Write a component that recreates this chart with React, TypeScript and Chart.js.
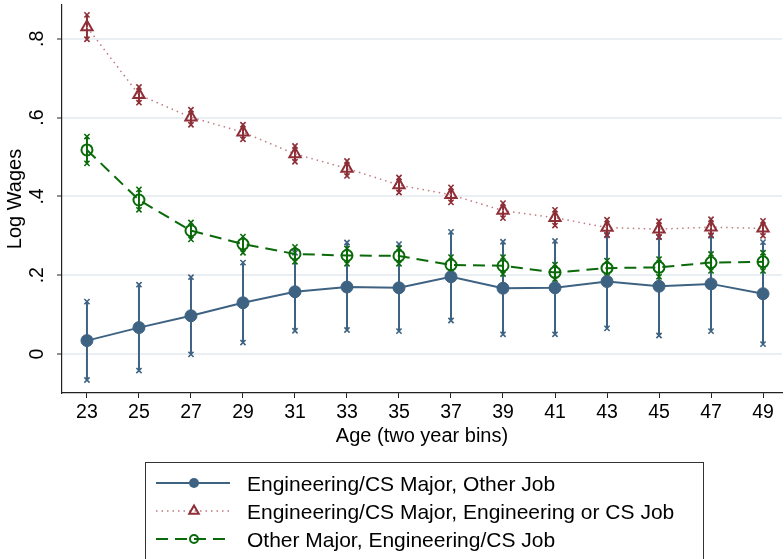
import { useEffect, useRef } from "react";
import { Chart, registerables } from "chart.js";

Chart.register(...registerables);

const ages = [23, 25, 27, 29, 31, 33, 35, 37, 39, 41, 43, 45, 47, 49];
const yTickValues = [0, 0.2, 0.4, 0.6, 0.8];
const yTickLabels = ["0", ".2", ".4", ".6", ".8"];

const otherJobMean = [0.034, 0.067, 0.097, 0.130, 0.158, 0.170, 0.168, 0.196, 0.167, 0.168, 0.184, 0.172, 0.178, 0.153];
const otherJobLo = [-0.066, -0.042, -0.001, 0.029, 0.059, 0.061, 0.058, 0.085, 0.050, 0.050, 0.065, 0.047, 0.058, 0.025];
const otherJobHi = [0.133, 0.176, 0.195, 0.232, 0.257, 0.283, 0.279, 0.310, 0.285, 0.287, 0.303, 0.297, 0.300, 0.284];

const engJobMean = [0.830, 0.658, 0.601, 0.563, 0.508, 0.471, 0.429, 0.404, 0.364, 0.346, 0.321, 0.317, 0.322, 0.319];
const engJobLo = [0.799, 0.638, 0.582, 0.545, 0.488, 0.452, 0.410, 0.385, 0.345, 0.326, 0.301, 0.297, 0.302, 0.300];
const engJobHi = [0.861, 0.678, 0.620, 0.582, 0.528, 0.490, 0.448, 0.423, 0.383, 0.366, 0.341, 0.337, 0.342, 0.338];

const otherMajorMean = [0.518, 0.391, 0.313, 0.279, 0.254, 0.250, 0.249, 0.226, 0.224, 0.207, 0.218, 0.220, 0.232, 0.234];
const otherMajorLo = [0.484, 0.366, 0.291, 0.257, 0.234, 0.229, 0.229, 0.209, 0.203, 0.190, 0.196, 0.196, 0.211, 0.211];
const otherMajorHi = [0.552, 0.418, 0.334, 0.298, 0.272, 0.268, 0.269, 0.246, 0.246, 0.227, 0.237, 0.241, 0.254, 0.257];

const seriesLabels = [
  "Engineering/CS Major, Other Job",
  "Engineering/CS Major, Engineering or CS Job",
  "Other Major, Engineering/CS Job",
];

const BLUE = "#3e6282";
const RED = "#8e2f37";
const RED_LINE = "#c07a80";
const GREEN = "#0a6a0a";
const FONT = "'Liberation Sans', Arial, Helvetica, sans-serif";
const FS = 19.5;
const FS_TITLE = 20;
const FS_LEGEND = 21;

const pts = (ys: number[]) => ages.map((a, i) => ({ x: a, y: ys[i] }));

const errorBars = [
  { lo: otherJobLo, hi: otherJobHi, color: BLUE },
  { lo: engJobLo, hi: engJobHi, color: RED },
  { lo: otherMajorLo, hi: otherMajorHi, color: GREEN },
];

function drawCapX(ctx: CanvasRenderingContext2D, x: number, y: number) {
  const s = 2.6;
  ctx.beginPath();
  ctx.moveTo(x - s, y - s);
  ctx.lineTo(x + s, y + s);
  ctx.moveTo(x + s, y - s);
  ctx.lineTo(x - s, y + s);
  ctx.stroke();
}

const errorBarPlugin = {
  id: "errorBars",
  beforeDatasetsDraw(chart: any) {
    const { ctx } = chart;
    const xs = chart.scales.x;
    const ys = chart.scales.y;
    ctx.save();
    errorBars.forEach((eb) => {
      ctx.strokeStyle = eb.color;
      ctx.lineWidth = 2;
      ages.forEach((a, i) => {
        const px = xs.getPixelForValue(a);
        const pt = ys.getPixelForValue(eb.hi[i]);
        const pb = ys.getPixelForValue(eb.lo[i]);
        ctx.beginPath();
        ctx.moveTo(px, pt);
        ctx.lineTo(px, pb);
        ctx.stroke();
      });
      ctx.lineWidth = 1.6;
      ages.forEach((a, i) => {
        const px = xs.getPixelForValue(a);
        drawCapX(ctx, px, ys.getPixelForValue(eb.hi[i]));
        drawCapX(ctx, px, ys.getPixelForValue(eb.lo[i]));
      });
    });
    ctx.restore();
  },
};

const yLabelPlugin = {
  id: "yLabels",
  afterDraw(chart: any) {
    const { ctx } = chart;
    const ys = chart.scales.y;
    ctx.save();
    ctx.fillStyle = "#000";
    ctx.font = `${FS}px ${FONT}`;
    ctx.textAlign = "center";
    ctx.textBaseline = "alphabetic";
    yTickValues.forEach((v, i) => {
      const py = ys.getPixelForValue(v);
      ctx.save();
      ctx.translate(43, py);
      ctx.rotate(-Math.PI / 2);
      ctx.fillText(yTickLabels[i], 0, 0);
      ctx.restore();
    });
    ctx.restore();
  },
};

const legendPlugin = {
  id: "customLegend",
  afterDraw(chart: any) {
    const { ctx } = chart;
    ctx.save();
    ctx.strokeStyle = "#333";
    ctx.lineWidth = 1;
    ctx.strokeRect(145.5, 462.5, 558, 140);
    const rows = [490.5, 518.5, 546.5];
    const x0 = 156;
    const x1 = 230;
    const mx = 194;
    ctx.font = `${FS_LEGEND}px ${FONT}`;
    ctx.textAlign = "left";
    ctx.textBaseline = "alphabetic";
    rows.forEach((by, i) => {
      const ly = by - 7.5;
      ctx.save();
      if (i === 0) {
        ctx.strokeStyle = BLUE;
        ctx.lineWidth = 2;
        ctx.setLineDash([]);
      } else if (i === 1) {
        ctx.strokeStyle = RED_LINE;
        ctx.lineWidth = 1.5;
        ctx.setLineDash([1.5, 4]);
      } else {
        ctx.strokeStyle = GREEN;
        ctx.lineWidth = 2;
        ctx.setLineDash([12, 7]);
      }
      ctx.beginPath();
      ctx.moveTo(x0, ly);
      ctx.lineTo(x1, ly);
      ctx.stroke();
      ctx.setLineDash([]);
      if (i === 0) {
        ctx.fillStyle = BLUE;
        ctx.beginPath();
        ctx.arc(mx, ly, 5, 0, Math.PI * 2);
        ctx.fill();
      } else if (i === 1) {
        ctx.strokeStyle = RED;
        ctx.lineWidth = 2;
        const r = 5.5;
        ctx.beginPath();
        ctx.moveTo(mx, ly - r);
        ctx.lineTo(mx + r * 0.866, ly + r * 0.5);
        ctx.lineTo(mx - r * 0.866, ly + r * 0.5);
        ctx.closePath();
        ctx.stroke();
      } else {
        ctx.strokeStyle = GREEN;
        ctx.lineWidth = 2;
        ctx.beginPath();
        ctx.arc(mx, ly, 4, 0, Math.PI * 2);
        ctx.stroke();
      }
      ctx.restore();
      ctx.fillStyle = "#000";
      ctx.fillText(seriesLabels[i], 247, by);
    });
    ctx.restore();
  },
};

export default function App() {
  const ref = useRef<HTMLCanvasElement>(null);
  useEffect(() => {
    document.body.style.margin = "0";
    Chart.defaults.font.family = FONT;
    const chart = new Chart(ref.current as HTMLCanvasElement, {
      type: "line",
      data: {
        datasets: [
          {
            label: seriesLabels[0],
            data: pts(otherJobMean),
            borderColor: BLUE,
            borderWidth: 2,
            pointStyle: "circle",
            pointRadius: 6,
            pointBackgroundColor: BLUE,
            pointBorderColor: BLUE,
            pointBorderWidth: 1,
            fill: false,
            tension: 0,
            clip: false,
            order: 3,
          },
          {
            label: seriesLabels[1],
            data: pts(engJobMean),
            borderColor: RED_LINE,
            borderWidth: 1.5,
            borderDash: [1.5, 4],
            pointStyle: "triangle",
            pointRadius: 6.5,
            pointBackgroundColor: "rgba(0,0,0,0)",
            pointBorderColor: RED,
            pointBorderWidth: 2,
            fill: false,
            tension: 0,
            clip: false,
            order: 2,
          },
          {
            label: seriesLabels[2],
            data: pts(otherMajorMean),
            borderColor: GREEN,
            borderWidth: 2,
            borderDash: [12, 7],
            pointStyle: "circle",
            pointRadius: 5.5,
            pointBackgroundColor: "rgba(0,0,0,0)",
            pointBorderColor: GREEN,
            pointBorderWidth: 2,
            fill: false,
            tension: 0,
            clip: false,
            order: 1,
          },
        ],
      },
      options: {
        animation: false,
        responsive: false,
        maintainAspectRatio: false,
        layout: { autoPadding: false, padding: { left: 0, right: 2, top: 5, bottom: 111 } },
        plugins: {
          legend: { display: false },
          tooltip: { enabled: false },
        },
        scales: {
          x: {
            type: "linear",
            min: 22.04,
            max: 49.73,
            afterBuildTicks: (s: any) => {
              s.ticks = ages.map((v) => ({ value: v }));
            },
            afterFit: (s: any) => {
              s.height = 55;
              s.paddingLeft = 0;
              s.paddingRight = 0;
            },
            ticks: {
              autoSkip: false,
              maxRotation: 0,
              minRotation: 0,
              padding: 3,
              color: "#000",
              font: { size: FS, family: FONT },
              callback: (v: any) => String(v),
            },
            grid: {
              drawOnChartArea: false,
              drawTicks: true,
              tickLength: 5,
              tickColor: "#222",
              tickWidth: 1,
            },
            border: { display: true, color: "#222", width: 1.2 },
            title: {
              display: true,
              text: "Age (two year bins)",
              color: "#000",
              font: { size: FS_TITLE, family: FONT },
              padding: { top: 0, bottom: 0 },
            },
          },
          y: {
            type: "linear",
            min: -0.099,
            max: 0.886,
            afterBuildTicks: (s: any) => {
              s.ticks = yTickValues.map((v) => ({ value: v }));
            },
            afterFit: (s: any) => {
              s.width = 62;
              s.paddingTop = 0;
              s.paddingBottom = 0;
            },
            ticks: { display: false },
            grid: {
              color: "#e9eff2",
              lineWidth: 2,
              drawTicks: true,
              tickLength: 5,
              tickColor: "#222",
              tickWidth: 1,
            },
            border: { display: true, color: "#222", width: 1.2 },
            title: {
              display: true,
              text: "Log Wages",
              color: "#000",
              font: { size: FS_TITLE, family: FONT },
              padding: { top: 3, bottom: 0 },
            },
          },
        },
      },
      plugins: [errorBarPlugin, yLabelPlugin, legendPlugin],
    });
    return () => chart.destroy();
  }, []);
  return (
    <div style={{ width: 784, height: 559, position: "relative" }}>
      <canvas ref={ref} width={784} height={559} style={{ display: "block" }} />
    </div>
  );
}
